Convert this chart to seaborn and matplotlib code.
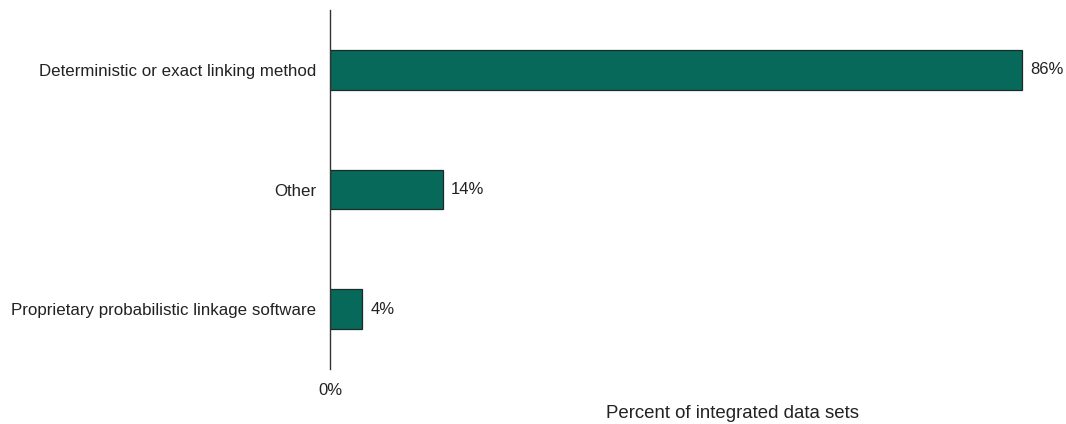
import matplotlib
matplotlib.use("Agg")
import matplotlib.pyplot as plt
import pandas as pd
import seaborn as sns

# data
methods = [
    "Deterministic or exact linking method",
    "Other",
    "Proprietary probabilistic linkage software",
]
percents = [86, 14, 4]

df = pd.DataFrame({"method": methods, "percent": percents})

sns.set_style("white")
plt.rcParams["font.family"] = ["Liberation Sans", "DejaVu Sans"]
plt.rcParams["font.size"] = 12

fig = plt.figure(figsize=(10.66, 4.24), dpi=100)
ax = fig.add_axes([330 / 1066, 1 - 369 / 424, 724 / 1066, 359 / 424])

sns.barplot(
    data=df,
    x="percent",
    y="method",
    orient="h",
    color="#07695a",
    saturation=1,
    width=0.33,
    edgecolor="#1b2b27",
    linewidth=0.9,
    ax=ax,
)
ax.bar_label(ax.containers[0], labels=[f"{p}%" for p in percents],
             padding=6, fontsize=12, color="#222222")

ax.set_xlim(0, 90)
ax.set_ylim(2.5, -0.5)
ax.set_xticks([0])
ax.set_xticklabels(["0%"])
ax.tick_params(axis="x", length=0, pad=10, labelsize=12, colors="#222222")
ax.tick_params(axis="y", length=0, pad=10, labelsize=12.2, colors="#222222")
ax.set_xlabel("")
ax.set_ylabel("")
for side in ["top", "right", "bottom"]:
    ax.spines[side].set_visible(False)
ax.spines["left"].set_color("#333333")
ax.spines["left"].set_linewidth(1.0)

fig.text(733 / 1066, 1 - 414 / 424, "Percent of integrated data sets",
         ha="center", va="center", fontsize=13.4, color="#222222")

fig.savefig("out.png", dpi=100)
